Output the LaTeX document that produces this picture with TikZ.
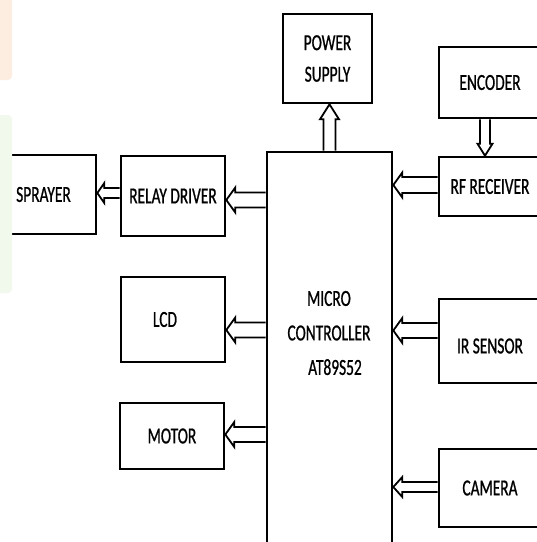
\documentclass[tikz,border=0pt]{standalone}
\usepackage{fontspec}
\newfontfamily\boxfont{Carlito}[FakeStretch=0.67, FakeBold=0.8]
\usetikzlibrary{backgrounds,calc}
\definecolor{wmorange}{RGB}{253,236,224}
\definecolor{wmgreen}{RGB}{241,249,236}
\tikzset{
  shaftw/.store in=\shaftw, headw/.store in=\headw, headl/.store in=\headl,
  offy/.store in=\offy, offx/.store in=\offx,
  shaftw=7.5pt, headw=12.5pt, headl=9pt, offy=0pt, offx=0pt,
  box/.style={draw, line width=2.6pt, inner sep=0pt, text=black,
    font=\boxfont\fontsize{23}{28}\selectfont},
  blockarrow/.style={draw, line width=1.8pt, fill=white, line join=miter},
  toleft/.style={blockarrow, to path={let \p1=(\tikztostart), \p2=(\tikztotarget) in
    (\x1,\y1+\offy+\shaftw) -- (\x2+\headl,\y1+\offy+\shaftw) -- (\x2+\headl,\y1+\offy+\headw)
    -- (\x2,\y1+\offy) -- (\x2+\headl,\y1+\offy-\headw) -- (\x2+\headl,\y1+\offy-\shaftw)
    -- (\x1,\y1+\offy-\shaftw)}},
  toup/.style={blockarrow, to path={let \p1=(\tikztostart), \p2=(\tikztotarget) in
    (\x1+\offx+\shaftw,\y1) -- (\x1+\offx+\shaftw,\y2-\headl) -- (\x1+\offx+\headw,\y2-\headl)
    -- (\x1+\offx,\y2) -- (\x1+\offx-\headw,\y2-\headl) -- (\x1+\offx-\shaftw,\y2-\headl)
    -- (\x1+\offx-\shaftw,\y1)}},
  todown/.style={blockarrow, to path={let \p1=(\tikztostart), \p2=(\tikztotarget) in
    (\x1+\offx+\shaftw,\y1) -- (\x1+\offx+\shaftw,\y2+\headl) -- (\x1+\offx+\headw,\y2+\headl)
    -- (\x1+\offx,\y2) -- (\x1+\offx-\headw,\y2+\headl) -- (\x1+\offx-\shaftw,\y2+\headl)
    -- (\x1+\offx-\shaftw,\y1)}},
}
\begin{document}
\begin{tikzpicture}[x=1pt,y=-1pt]
\useasboundingbox (0,0) rectangle (537,542);
\clip (0,0) rectangle (537,542);

% boxes
\node[box, minimum width=89pt, minimum height=89pt, align=center,
  font=\boxfont\fontsize{23}{31.5}\selectfont] (power) at (327.5,58.5) {POWER\\SUPPLY};
\node[box, minimum width=102pt, minimum height=71pt] (encoder) at (490,82.5) {ENCODER};
\node[box, minimum width=102pt, minimum height=59pt] (rf) at (490,186.5) {RF RECEIVER};
\node[box, minimum width=102pt, minimum height=84pt] (ir) at (490,341)
  {\raisebox{-5pt}[\height][\depth]{IR SENSOR}};
\node[box, minimum width=102pt, minimum height=78pt] (camera) at (490,488) {CAMERA};
\node[box, minimum width=125pt, minimum height=418pt] (mcu) at (329.5,361) {};
\node[text=black, align=center, inner sep=0pt,
  font=\boxfont\fontsize{23}{34.5}\selectfont] (mcutext) at (329,333)
  {MICRO\\CONTROLLER\\\hspace*{12pt}AT89S52};
\node[box, minimum width=104pt, minimum height=80pt] (relay) at (173,196) {RELAY DRIVER};
\node[box, minimum width=105pt, minimum height=79pt] (sprayer) at (43.5,194.5) {SPRAYER};
\node[box, minimum width=104pt, minimum height=85pt] (lcd) at (173,319.5) {LCD\kern16pt};
\node[box, minimum width=104pt, minimum height=66pt] (motor) at (172,436) {MOTOR};

% arrows
\begin{scope}[on background layer]
\draw[toup, shaftw=6pt, headw=9.5pt, headl=15pt] (mcu.north) to (power.south);
\draw[todown, offx=-5pt, shaftw=5pt, headw=7.5pt, headl=12pt] (encoder.south) to (rf.north);
\draw[toleft, offy=1.5pt, shaftw=8pt] (rf.west) to (mcu.east);
\draw[toleft, offy=10.5pt] (ir.west) to (mcu.east);
\draw[toleft, offy=1pt, shaftw=5pt, headw=10pt] (camera.west) to (mcu.east);
\draw[toleft, offy=-4pt] (mcu.west |- relay.east) to (relay.east);
\draw[toleft, offy=-10.5pt] (mcu.west |- lcd.east) to (lcd.east);
\draw[toleft, offy=1.5pt] (mcu.west |- motor.east) to (motor.east);
\draw[toleft, offy=3pt, shaftw=5pt, headw=10pt, headl=7pt] (relay.west) to (sprayer.east);
\end{scope}

% faint watermark strips at the left edge
\fill[wmorange, rounded corners=4pt] (-5,-5) rectangle (12,80);
\fill[wmgreen, rounded corners=4pt] (-5,115) rectangle (12,293);
\end{tikzpicture}
\end{document}
